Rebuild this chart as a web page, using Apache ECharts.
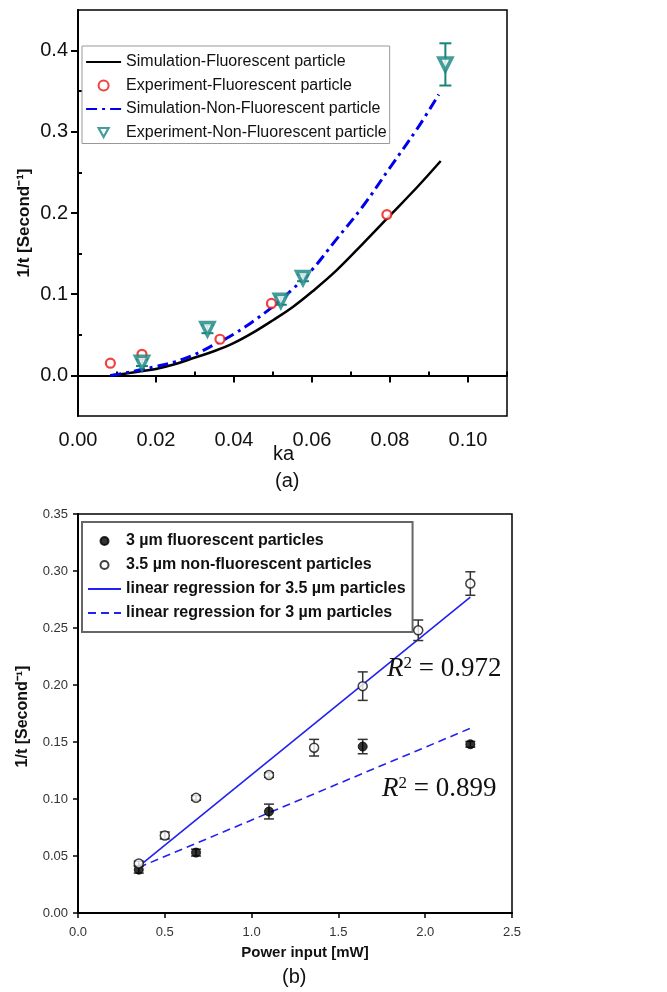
<!DOCTYPE html>
<html><head><meta charset="utf-8">
<script src="https://cdn.jsdelivr.net/npm/echarts@6/dist/echarts.min.js"></script>
<style>html,body{margin:0;padding:0;background:#fff}#c{width:667px;height:992px}</style>
</head><body><div id="c"></div>
<script>
// ---------- Panel (a) ----------
const kaSimFl  = [0.0083, 0.012, 0.016, 0.020, 0.025, 0.030, 0.035, 0.040, 0.045, 0.050, 0.055, 0.060, 0.066, 0.073, 0.080, 0.087, 0.093];
const simFl    = [0.000, 0.002, 0.005, 0.008, 0.014, 0.022, 0.030, 0.040, 0.053, 0.068, 0.084, 0.103, 0.128, 0.162, 0.197, 0.232, 0.264];
const kaSimNF  = [0.0083, 0.012, 0.016, 0.020, 0.025, 0.030, 0.035, 0.040, 0.045, 0.050, 0.055, 0.060, 0.066, 0.073, 0.080, 0.087, 0.0925];
const simNF    = [0.000, 0.003, 0.007, 0.011, 0.017, 0.026, 0.038, 0.051, 0.067, 0.085, 0.106, 0.130, 0.166, 0.208, 0.256, 0.304, 0.346];
const kaExpFl  = [0.0083, 0.0164, 0.0364, 0.0496, 0.0792];
const expFl    = [0.015, 0.026, 0.0445, 0.0886, 0.198];
const kaExpNF  = [0.0164, 0.0332, 0.052, 0.0577, 0.0942];
const expNF    = [0.0156, 0.057, 0.092, 0.120, 0.383];
const errNF    = [0.004, 0.005, 0.005, 0.004, 0.026];
const kaMajor  = [0, 0.02, 0.04, 0.06, 0.08, 0.10];
const kaMinor  = [0.01, 0.03, 0.05, 0.07, 0.09, 0.11];
const rateMajorA = [0, 0.1, 0.2, 0.3, 0.4];
const rateMinorA = [0.05, 0.15, 0.25, 0.35];
const namesA = ['Simulation-Fluorescent particle', 'Experiment-Fluorescent particle', 'Simulation-Non-Fluorescent particle', 'Experiment-Non-Fluorescent particle'];

// ---------- Panel (b) ----------
const power3   = [0.35, 0.68, 1.10, 1.64, 2.26];
const rate3    = [0.038, 0.053, 0.089, 0.146, 0.148];
const err3     = [0.003, 0.003, 0.0065, 0.0063, 0.0025];
const power35  = [0.35, 0.50, 0.68, 1.10, 1.36, 1.64, 1.96, 2.26];
const rate35   = [0.0435, 0.068, 0.101, 0.121, 0.145, 0.199, 0.248, 0.289];
const err35    = [0.002, 0.003, 0.002, 0.002, 0.0073, 0.0125, 0.009, 0.0103];
const regX     = [0.35, 2.26];
const reg35    = [0.041, 0.277];
const reg3     = [0.040, 0.162];
const namesB = ['3 µm fluorescent particles', '3.5 µm non-fluorescent particles', 'linear regression for 3.5 µm particles', 'linear regression for 3 µm particles'];
const r2Texts = ['0.972', '0.899'];

const zip = (xs, ys) => xs.map((x, i) => [x, ys[i]]);
const teal = '#17857f', red = '#ee1111', blue = '#2222ee', navy = '#0000ee';
const FONT = 'Liberation Sans, Arial, sans-serif';
const SERIF = 'Liberation Serif, Times New Roman, serif';
// legend glyph for a down-pointing triangle, padded to the item box so it keeps its shape
const triIcon = 'path://M0,0 M35,10 M12.5,0.5 L22.5,0.5 L17.5,9.5 Z';

function errSeries(xi, yi, xs, ys, es, color, cap, lw, z) {
  return {
    type: 'custom', xAxisIndex: xi, yAxisIndex: yi, z: z, silent: true,
    data: xs.map((x, i) => [x, ys[i] - es[i], ys[i] + es[i]]),
    encode: { x: 0, y: [1, 2] },
    renderItem(params, api) {
      const lo = api.coord([api.value(0), api.value(1)]);
      const hi = api.coord([api.value(0), api.value(2)]);
      const style = { stroke: color, lineWidth: lw, fill: null };
      return { type: 'group', children: [
        { type: 'line', shape: { x1: lo[0], y1: lo[1], x2: hi[0], y2: hi[1] }, style },
        { type: 'line', shape: { x1: lo[0] - cap, y1: lo[1], x2: lo[0] + cap, y2: lo[1] }, style },
        { type: 'line', shape: { x1: hi[0] - cap, y1: hi[1], x2: hi[0] + cap, y2: hi[1] }, style }
      ]};
    }
  };
}

const chart = echarts.init(document.getElementById('c'), null, { renderer: 'canvas' });
const fixed = (d) => (v) => v.toFixed(d);
const r2Rich = {
  i: { fontFamily: SERIF, fontStyle: 'italic', fontSize: 27, fill: '#111' },
  s: { fontFamily: SERIF, fontSize: 17, fill: '#111', verticalAlign: 'top' },
  n: { fontFamily: SERIF, fontSize: 27, fill: '#111' }
};

chart.setOption({
  animation: false,
  backgroundColor: '#fff',
  textStyle: { fontFamily: FONT },
  title: [
    { text: '(a)', left: 270, top: 466, textStyle: { fontSize: 20, fontWeight: 'normal', color: '#111', fontFamily: FONT } },
    { text: '(b)', left: 277, top: 962, textStyle: { fontSize: 20, fontWeight: 'normal', color: '#111', fontFamily: FONT } }
  ],
  grid: [
    { left: 78, top: 10, width: 429, height: 406, show: true, borderColor: '#000', borderWidth: 1.5, backgroundColor: 'transparent' },
    { left: 78, top: 514, width: 434, height: 399, show: true, borderColor: '#000', borderWidth: 1.5, backgroundColor: 'transparent' }
  ],
  xAxis: [
    { gridIndex: 0, type: 'value', min: 0, max: 0.11,
      name: 'ka', nameLocation: 'middle', nameGap: 28, nameMoveOverlap: false,
      nameTextStyle: { fontSize: 20, color: '#111', padding: [0, 18, 0, 0] },
      axisLine: { lineStyle: { color: '#000', width: 2 } },
      axisTick: { customValues: kaMajor, length: 7, lineStyle: { color: '#000', width: 2 } },
      axisLabel: { customValues: kaMajor, formatter: fixed(2), fontSize: 20, color: '#111', margin: 14 },
      splitLine: { show: false } },
    { gridIndex: 0, type: 'value', min: 0, max: 0.11,
      axisLine: { show: false },
      axisTick: { customValues: kaMinor, length: 4, lineStyle: { color: '#000', width: 2 } },
      axisLabel: { show: false }, splitLine: { show: false } },
    { gridIndex: 1, type: 'value', min: 0, max: 2.5, interval: 0.5,
      name: 'Power input [mW]', nameLocation: 'middle', nameGap: 32,
      nameTextStyle: { fontSize: 15, fontWeight: 'bold', color: '#111', padding: [0, 0, 0, 20] },
      axisLine: { lineStyle: { color: '#000', width: 2 } },
      axisTick: { length: 5, lineStyle: { color: '#000', width: 1.5 } },
      axisLabel: { formatter: fixed(1), fontSize: 13, color: '#333', margin: 13 },
      splitLine: { show: false } }
  ],
  yAxis: [
    { gridIndex: 0, type: 'value', min: -0.05, max: 0.45,
      name: '1/t [Second⁻¹]', nameLocation: 'middle', nameGap: 45, nameMoveOverlap: false,
      nameTextStyle: { fontSize: 17, fontWeight: 'bold', color: '#111', padding: [0, 20, 0, 0] },
      axisLine: { lineStyle: { color: '#000', width: 2 } },
      axisTick: { customValues: rateMajorA, length: 7, lineStyle: { color: '#000', width: 2 } },
      axisLabel: { customValues: rateMajorA, formatter: fixed(1), fontSize: 20, color: '#111', margin: 10 },
      splitLine: { show: false } },
    { gridIndex: 0, type: 'value', min: -0.05, max: 0.45,
      axisLine: { show: false },
      axisTick: { customValues: rateMinorA, length: 4, lineStyle: { color: '#000', width: 2 } },
      axisLabel: { show: false }, splitLine: { show: false } },
    { gridIndex: 1, type: 'value', min: 0, max: 0.35, interval: 0.05,
      name: '1/t [Second⁻¹]', nameLocation: 'middle', nameGap: 47,
      nameTextStyle: { fontSize: 16, fontWeight: 'bold', color: '#111', padding: [0, 6, 0, 0] },
      axisLine: { lineStyle: { color: '#000', width: 2 } },
      axisTick: { length: 5, lineStyle: { color: '#000', width: 1.5 } },
      axisLabel: { formatter: fixed(2), fontSize: 13, color: '#333', margin: 10 },
      splitLine: { show: false } }
  ],
  legend: [
    { data: [
        { name: namesA[0], itemStyle: { opacity: 0 } },
        { name: namesA[1] },
        { name: namesA[2], itemStyle: { opacity: 0 } },
        { name: namesA[3], icon: triIcon, itemStyle: { color: '#fff', borderColor: teal, borderWidth: 2.2 } }
      ],
      orient: 'vertical', left: 82, top: 46, padding: [8, 3, 3, 3],
      itemWidth: 35, itemHeight: 10, itemGap: 7.5,
      borderColor: '#999', borderWidth: 1, backgroundColor: '#fff',
      textStyle: { fontSize: 16, color: '#111', fontFamily: FONT } },
    { data: [
        { name: namesB[0] },
        { name: namesB[1] },
        { name: namesB[2], itemStyle: { opacity: 0 } },
        { name: namesB[3], itemStyle: { opacity: 0 } }
      ],
      orient: 'vertical', left: 82, top: 522, padding: [11, 7, 11, 5],
      itemWidth: 33, itemHeight: 8, itemGap: 8,
      borderColor: '#666', borderWidth: 2, backgroundColor: '#fff',
      textStyle: { fontSize: 16, fontWeight: 'bold', color: '#111', fontFamily: FONT } }
  ],
  graphic: [
    { type: 'text', left: 387, top: 655, z: 100,
      style: { text: '{i|R}{s|2}{n| = ' + r2Texts[0] + '}', rich: r2Rich } },
    { type: 'text', left: 382, top: 775, z: 100,
      style: { text: '{i|R}{s|2}{n| = ' + r2Texts[1] + '}', rich: r2Rich } }
  ],
  series: [
    // panel (a)
    { name: namesA[0], type: 'line', xAxisIndex: 0, yAxisIndex: 0, data: zip(kaSimFl, simFl),
      symbol: 'none', smooth: 0.4, lineStyle: { color: '#000', width: 2.5 }, itemStyle: { color: '#000' }, z: 3 },
    { name: namesA[2], type: 'line', xAxisIndex: 0, yAxisIndex: 0, data: zip(kaSimNF, simNF),
      symbol: 'none', smooth: 0.4, lineStyle: { color: navy, width: 3, type: [11, 5, 3, 5] }, itemStyle: { color: navy }, z: 3 },
    errSeries(0, 0, kaExpNF, expNF, errNF, teal, 6, 2, 4),
    { name: namesA[1], type: 'scatter', xAxisIndex: 0, yAxisIndex: 0, data: zip(kaExpFl, expFl),
      symbol: 'circle', symbolSize: 9, itemStyle: { color: '#fff', borderColor: red, borderWidth: 2.2 }, z: 5 },
    { name: namesA[3], type: 'scatter', xAxisIndex: 0, yAxisIndex: 0, data: zip(kaExpNF, expNF),
      symbol: 'triangle', symbolRotate: 180, symbolSize: 13, itemStyle: { color: '#fff', borderColor: teal, borderWidth: 3.5 }, z: 5 },
    // panel (b)
    { name: namesB[2], type: 'line', xAxisIndex: 2, yAxisIndex: 2, data: zip(regX, reg35),
      symbol: 'none', lineStyle: { color: blue, width: 1.6 }, itemStyle: { color: blue }, z: 3 },
    { name: namesB[3], type: 'line', xAxisIndex: 2, yAxisIndex: 2, data: zip(regX, reg3),
      symbol: 'none', lineStyle: { color: blue, width: 1.6, type: [8, 5] }, itemStyle: { color: blue }, z: 3 },
    errSeries(2, 2, power35, rate35, err35, '#333', 5, 1.5, 4),
    errSeries(2, 2, power3, rate3, err3, '#333', 5, 1.5, 4),
    { name: namesB[0], type: 'scatter', xAxisIndex: 2, yAxisIndex: 2, data: zip(power3, rate3),
      symbol: 'circle', symbolSize: 9, itemStyle: { color: '#000', borderColor: '#000', borderWidth: 1 }, z: 5 },
    { name: namesB[1], type: 'scatter', xAxisIndex: 2, yAxisIndex: 2, data: zip(power35, rate35),
      symbol: 'circle', symbolSize: 9, itemStyle: { color: '#fff', borderColor: '#111', borderWidth: 1.5 }, z: 5 }
  ]
});
</script></body></html>
